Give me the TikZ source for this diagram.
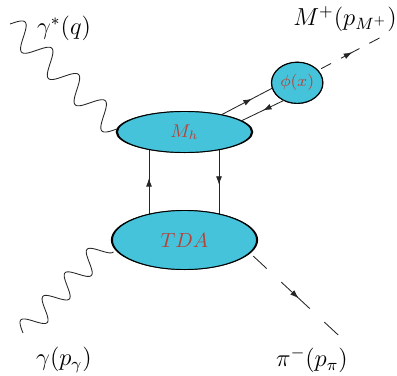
\documentclass[tikz,border=0pt]{standalone}
\usetikzlibrary{shapes.geometric,arrows.meta,decorations.markings}
\definecolor{blobfill}{HTML}{45C3DB}
\definecolor{blobtext}{HTML}{B5443A}
\newdimen\pxu \pxu=0.4878pt
\pgfdeclarelayer{background}
\pgfsetlayers{background,main}
\begin{document}
\begin{tikzpicture}[x=\pxu, y=-\pxu,
  blob/.style={ellipse, fill=blobfill, draw=black, line width=0.45pt, inner sep=0pt, outer sep=0pt, text=blobtext},
  lbl/.style={font=\large, inner sep=0pt},
  ln/.style={line width=0.42pt, draw=black!85},
  midarrow/.style={postaction={decorate}, decoration={markings, mark=at position #1 with {\arrow{Latex[length=4.2pt,width=2.9pt]}}}}]
\useasboundingbox (0,0) rectangle (397,375);
% nodes
\node[blob, minimum width=134*\pxu, minimum height=41*\pxu] (Mh) at (184.5,132) {\small $M_h$};
\node[blob, minimum width=144*\pxu, minimum height=59*\pxu] (TDA) at (184.5,240) {$TDA$};
\node[blob, minimum width=51*\pxu, minimum height=41*\pxu] (phi) at (297.2,82.8) {\footnotesize $\phi(x)$};
\coordinate (vl) at (149,0);
\coordinate (vr) at (219,0);
\coordinate (Mend) at (380,37.7);
\coordinate (piend) at (339.3,336);
\begin{pgfonlayer}{background}
  % photon lines
  \draw[ln] plot[domain=0:1, samples=241, variable=\s] ({10+107*\s+8.4*sin(1440*\s)}, {24+105*\s-8.57*sin(1440*\s)});
  \draw[ln] plot[domain=0:1, samples=241, variable=\s] ({23+82.8*\s-7.67*sin(1350*\s)}, {333-88.3*\s-7.18*sin(1350*\s)});
  % vertical lines
  \draw[ln, midarrow=0.574] (TDA.center -| vl) -- (Mh.center -| vl);
  \draw[ln, midarrow=0.49] (Mh.center -| vr) -- (TDA.center -| vr);
  % shadows
  \fill[black] (Mh.center) ellipse [x radius=68.8, y radius=21];
  \fill[black] (TDA.center) ellipse [x radius=73.6, y radius=30];
  \fill[black] (phi.center) ellipse [x radius=26.3, y radius=21.2];
\end{pgfonlayer}
% Mh - phi lines
\draw[ln, midarrow=0.60] (Mh.25) -- (phi.192);
\draw[ln, midarrow=0.49] (phi.233.7) -- (Mh.11);
% outgoing dashed lines
\draw[ln, dash pattern=on 5.46pt off 5.46pt on 10.2pt off 5.46pt on 5.6pt off 1.95pt, dash phase=32.18pt, midarrow=0.557] (phi.31) -- (Mend);
\draw[ln, dash pattern=on 8.98pt off 9.66pt on 19pt off 9.66pt on 9.27pt off 2.44pt, dash phase=56.55pt, midarrow=0.548] (TDA.-11.7) -- (piend);
% labels
\node[lbl] (gq) at (64,28) {$\gamma^*(q)$};
\node[lbl] (Mp) at (345,19) {$M^+(p_{M^+})$};
\node[lbl] (gp) at (64,360) {$\gamma(p_\gamma)$};
\node[lbl] (pim) at (312,360) {$\pi^-(p_\pi)$};
\end{tikzpicture}
\end{document}
